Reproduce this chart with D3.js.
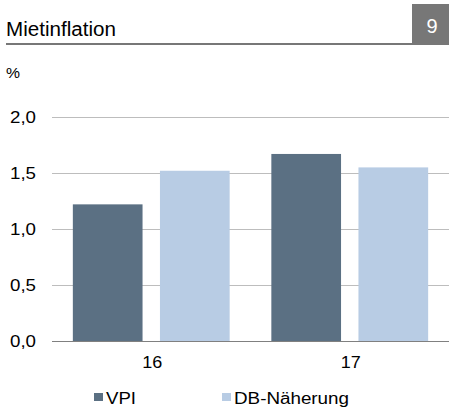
<!DOCTYPE html>
<html>
<head>
<meta charset="utf-8">
<script src="https://cdn.jsdelivr.net/npm/d3@7"></script>
<style>
  body { margin: 0; background: #fff; }
  text { font-family: "Liberation Sans", Arial, sans-serif; fill: #000; }
</style>
</head>
<body>
<script>
var years = ["16", "17"];
var seriesNames = ["VPI", "DB-Näherung"];
var vpi = [1.22, 1.67];
var dbNaeherung = [1.52, 1.55];
var yTicks = [0, 0.5, 1.0, 1.5, 2.0];
var colors = ["#5b7083", "#b8cce4"];

var width = 449, height = 408;
var margin = {top: 117, right: 0, bottom: 67, left: 52};

var svg = d3.select("body").append("svg")
    .attr("width", width)
    .attr("height", height);

// header
svg.append("text")
    .attr("x", 6).attr("y", 36)
    .attr("textLength", 110)
    .attr("lengthAdjust", "spacingAndGlyphs")
    .style("font-size", "20px")
    .text("Mietinflation");

svg.append("rect")
    .attr("x", 6).attr("y", 43)
    .attr("width", 406).attr("height", 2)
    .attr("fill", "#777");

svg.append("rect")
    .attr("x", 412).attr("y", 4)
    .attr("width", 37).attr("height", 41)
    .attr("fill", "#777");

svg.append("text")
    .attr("x", 432).attr("y", 33)
    .attr("text-anchor", "middle")
    .style("font-size", "20px")
    .style("fill", "#fff")
    .text("9");

svg.append("text")
    .attr("x", 6).attr("y", 78)
    .attr("textLength", 14)
    .attr("lengthAdjust", "spacingAndGlyphs")
    .style("font-size", "15px")
    .text("%");

var data = years.map(function(y, i) {
  return {year: y, values: [vpi[i], dbNaeherung[i]]};
});

var x0 = d3.scaleBand()
    .domain(years)
    .range([margin.left, width - margin.right])
    .paddingInner(0.21)
    .paddingOuter(0.105);

var x1 = d3.scaleBand()
    .domain([0, 1])
    .range([0, x0.bandwidth()])
    .paddingInner(0.2);

var y = d3.scaleLinear()
    .domain([0, 2])
    .range([height - margin.bottom, margin.top]);

// gridlines
svg.append("g")
  .selectAll("line")
  .data(yTicks.filter(function(d) { return d > 0; }))
  .enter().append("line")
    .attr("x1", margin.left)
    .attr("x2", width - margin.right)
    .attr("y1", function(d) { return y(d) + 0.5; })
    .attr("y2", function(d) { return y(d) + 0.5; })
    .attr("stroke", "#bdbdbd")
    .attr("stroke-width", 1);

// y labels
svg.append("g")
  .selectAll("text")
  .data(yTicks)
  .enter().append("text")
    .attr("x", 36)
    .attr("y", function(d) { return y(d) + 6; })
    .attr("text-anchor", "end")
    .attr("textLength", 26)
    .attr("lengthAdjust", "spacingAndGlyphs")
    .style("font-size", "16px")
    .text(function(d) { return d.toFixed(1).replace(".", ","); });

// bars
svg.append("g")
  .selectAll("g")
  .data(data)
  .enter().append("g")
    .attr("transform", function(d) { return "translate(" + x0(d.year) + ",0)"; })
  .selectAll("rect")
  .data(function(d) { return d.values; })
  .enter().append("rect")
    .attr("x", function(d, i) { return x1(i); })
    .attr("width", x1.bandwidth())
    .attr("y", function(d) { return y(d); })
    .attr("height", function(d) { return y(0) - y(d); })
    .attr("fill", function(d, i) { return colors[i]; });

// x axis line
svg.append("line")
    .attr("x1", margin.left)
    .attr("x2", width - margin.right)
    .attr("y1", y(0) + 0.5)
    .attr("y2", y(0) + 0.5)
    .attr("stroke", "#808080")
    .attr("stroke-width", 1);

// x labels
svg.append("g")
  .selectAll("text")
  .data(years)
  .enter().append("text")
    .attr("x", function(d) { return x0(d) + x0.bandwidth() / 2 + 1; })
    .attr("y", 368)
    .attr("text-anchor", "middle")
    .attr("textLength", 20)
    .attr("lengthAdjust", "spacingAndGlyphs")
    .style("font-size", "16px")
    .text(function(d) { return d; });

// legend
var legendX = [94, 222];
var legendW = [30, 115];
var legend = svg.append("g")
  .selectAll("g")
  .data(seriesNames)
  .enter().append("g")
    .attr("transform", function(d, i) { return "translate(" + legendX[i] + ",0)"; });

legend.append("rect")
    .attr("x", 0).attr("y", 393)
    .attr("width", 9).attr("height", 8)
    .attr("fill", function(d, i) { return colors[i]; });

legend.append("text")
    .attr("x", 12).attr("y", 404)
    .attr("textLength", function(d, i) { return legendW[i]; })
    .attr("lengthAdjust", "spacingAndGlyphs")
    .style("font-size", "16px")
    .text(function(d) { return d; });
</script>
</body>
</html>
